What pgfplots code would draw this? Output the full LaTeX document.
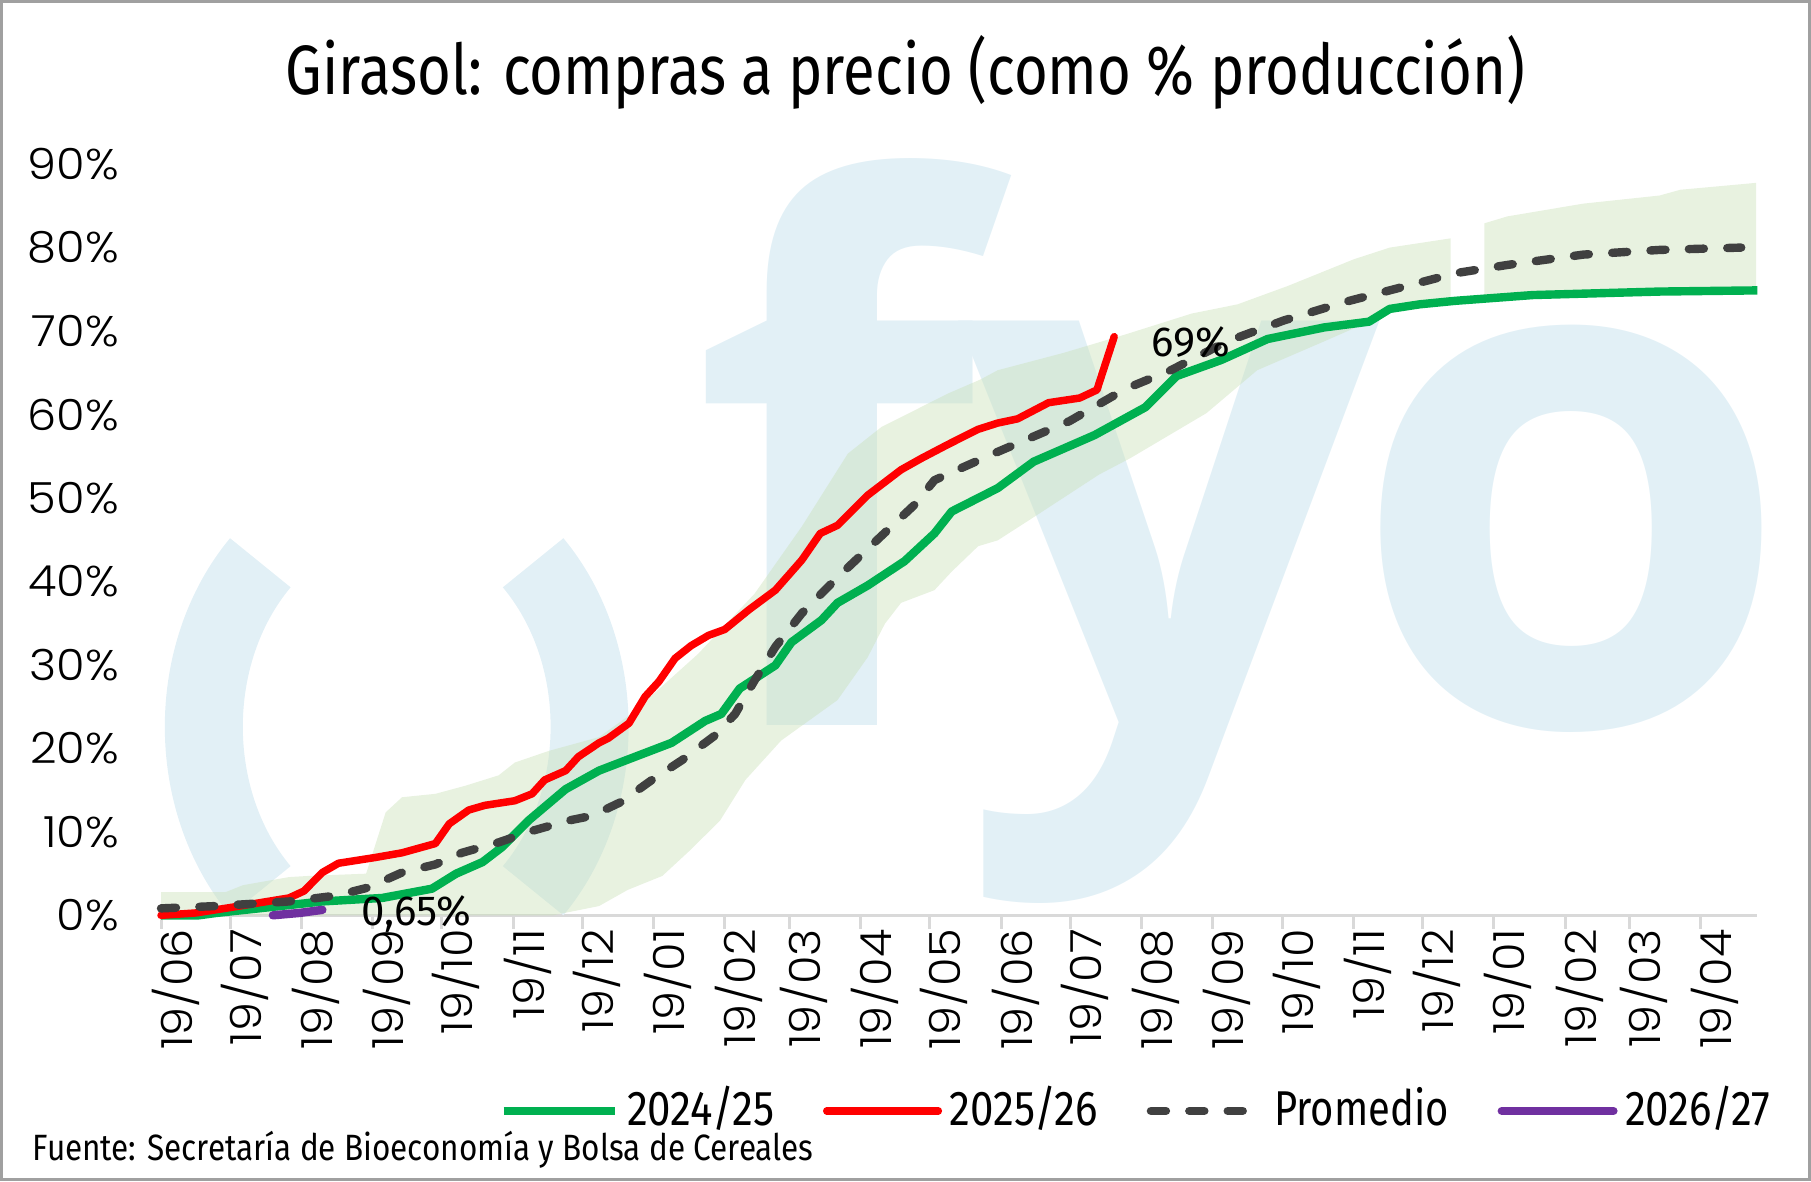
\documentclass[border=0pt]{standalone}
\usepackage{fontspec}
\setmainfont{Poppins}[UprightFont={* Light}, FakeStretch=1.08]
\newfontfamily\condfont{Fira Sans}[FakeStretch=0.83]
\newfontfamily\legfont{Fira Sans}[FakeStretch=0.86]
\newfontfamily\srcfont{Fira Sans}[FakeStretch=0.86]
\newfontfamily\labfont{Fira Sans}
\newfontfamily\wmfont{Open Sans}
\usepackage{pgfplots}
\pgfplotsset{compat=1.18}
\definecolor{wmblue}{RGB}{226,240,246}
\definecolor{bandgreen}{RGB}{200,224,182}
\definecolor{gline}{RGB}{0,176,80}
\definecolor{rline}{RGB}{255,0,0}
\definecolor{dline}{RGB}{64,64,64}
\definecolor{pline}{RGB}{112,48,160}
\definecolor{axgray}{RGB}{217,217,217}
\definecolor{framegray}{RGB}{160,160,160}
\begin{document}
\begin{tikzpicture}
\useasboundingbox (0,0) rectangle (603.67pt,393.67pt);
\draw[framegray, line width=1pt] (0.5pt,0.5pt) rectangle (603.17pt,393.17pt);
\node[anchor=base, inner sep=0pt, font=\condfont\fontsize{23.3}{23.3}\selectfont] at (301.8pt,362pt) {Girasol: compras a precio (como \% producción)};
\node[anchor=base west, inner sep=0pt, font=\srcfont\fontsize{12.2}{12.2}\selectfont] at (10.7pt,7pt) {Fuente: Secretaría de Bioeconomía y Bolsa de Cereales};
\begin{axis}[
  at={(53.67pt,88.57pt)}, anchor=south west,
  width=532.1pt, height=250.3pt, scale only axis,
  xmin=0, xmax=693.5, ymin=0, ymax=90,
  clip=false,
  axis x line*=bottom, axis y line*=left,
  x axis line style={draw=axgray, line width=1pt, -},
  y axis line style={draw=none},
  xtick={0,30,61,92,122,153,183,214,245,273,304,334,365,395,426,457,487,518,548,579,610,638,669},
  xticklabels={19/06,19/07,19/08,19/09,19/10,19/11,19/12,19/01,19/02,19/03,19/04,19/05,19/06,19/07,19/08,19/09,19/10,19/11,19/12,19/01,19/02,19/03,19/04},
  ytick={0,10,20,30,40,50,60,70,80,90},
  yticklabels={0\%,10\%,20\%,30\%,40\%,50\%,60\%,70\%,80\%,90\%},
  tick align=outside, major tick length=4.4pt,
  xtick style={draw=axgray, line width=1pt},
  ytick style={draw=none},
  xticklabel style={rotate=90, anchor=east, inner sep=0pt, yshift=-4.8pt, font=\fontsize{14.3}{14.3}\selectfont},
  yticklabel style={anchor=east, inner sep=0pt, xshift=-9.5pt, font=\fontsize{14.3}{14.3}\selectfont},
  legend columns=4,
  legend style={draw=none, fill=none, inner sep=0pt, outer sep=0pt,
    at={(1,0)}, anchor=east, xshift=4.4pt, yshift=-64.3pt,
    font=\legfont\fontsize{16.3}{16.3}\selectfont,
    nodes={inner sep=0pt},
    /tikz/every even column/.append style={column sep=16.3pt},
    /tikz/every odd column/.append style={column sep=2.5pt}},
  legend image code/.code={\draw[#1] (1.4pt,-0.9pt) -- (38.6pt,-0.9pt);},
]
% watermark
\node[anchor=base, inner sep=0pt, text=wmblue, font=\wmfont\bfseries\fontsize{247}{247}\selectfont] at (axis cs:293,22.7) {f};
\node[anchor=base, inner sep=0pt, text=wmblue, font=\wmfont\bfseries\fontsize{247}{247}\selectfont] at (axis cs:438,22.7) {y};
\node[anchor=base, inner sep=0pt, text=wmblue, font=\wmfont\bfseries\fontsize{240}{240}\selectfont] at (axis cs:612.7,22.7) {o};
\draw[wmblue, line width=26pt] (axis cs:102.4,22.6) ++(135:64.3pt and 77.3pt) arc[start angle=135, end angle=225, x radius=64.3pt, y radius=77.3pt];
\draw[wmblue, line width=26pt] (axis cs:102.4,22.6) ++(-45:64.3pt and 77.3pt) arc[start angle=-45, end angle=45, x radius=64.3pt, y radius=77.3pt];
% band (range of past campaigns)
\addplot[fill=bandgreen, fill opacity=0.42, draw=none, forget plot] coordinates {
 (0,2.77) (28,2.77) (35.6,3.61) (55.6,4.58) (64.1,4.72) (89.1,4.99) (97.6,12.34) (104.7,14.15) (119.2,14.56) (132.2,15.53) (146.7,16.78) (153.7,18.31) (168.3,19.69) (190.3,21.36) (204.3,24.13) (233.4,31.35) (257.9,38.56) (278.4,46.6) (298.4,55.34) (313,58.53) (342,62.55) (356,64.22) (363.5,65.33) (392.1,67.41) (419.1,69.63) (447.7,72.12) (467.7,73.23) (489.7,75.45) (518.3,78.64) (533.8,80.03) (560.3,81.14)
 (560.3,73.5) (546.8,73.23) (533.8,72.68) (524.8,71.15) (505.3,68.79) (476.2,65.33) (454.2,60.19) (421.1,54.79) (407.6,52.84) (379.1,47.71) (363.5,44.94) (355,44.24) (343.5,41.19) (336,38.97) (321.5,37.45) (314.5,34.95) (307,30.93) (293.9,25.8) (269.4,20.94) (253.9,16.23) (242.9,11.37) (230.3,7.91) (217.8,4.72) (202.8,3.05) (190.3,1.11) (170.3,0) (0,0)};
\addplot[fill=bandgreen, fill opacity=0.42, draw=none, forget plot] coordinates {
 (574.9,82.94) (584.9,83.77) (617.9,85.3) (651,86.27) (660,86.96) (693,87.79)
 (693,74.9) (651,74.76) (595.9,74.34) (584.9,74.1) (574.9,73.9)};
% 2024/25
\addplot[gline, line width=2.8pt, line join=round] coordinates {
 (0,0) (16.5,0) (24,0.28) (47.1,0.97) (70.1,1.66) (96.1,2.08) (117.7,3.19) (128.2,4.99) (139.7,6.38) (148.2,8.18) (159.7,11.37) (175.8,15.12) (190.3,17.34) (203.3,18.72) (221.8,20.67) (236.4,23.3) (243.4,24.13) (251.4,27.18) (266.9,29.96) (273.9,32.73) (286.9,35.37) (293.9,37.45) (307,39.53) (323,42.44) (336,45.77) (343.5,48.4) (363.5,51.2) (379.1,54.37) (405.6,57.56) (427.6,60.89) (441.2,64.63) (460.7,66.57) (480.7,69.07) (505.3,70.46) (524.8,71.15) (533.8,72.68) (546.8,73.23) (562.3,73.65) (595.9,74.34) (651,74.76) (693.5,74.9)};
\addlegendentry{2024/25}
% 2025/26
\addplot[rline, line width=2.5pt, line join=round, line cap=round] coordinates {
 (0,0) (15,0.28) (31,0.97) (55.6,2.08) (62.1,2.91) (70.1,5.13) (77.1,6.24) (93.1,6.93) (104.7,7.49) (119.2,8.6) (125.2,10.96) (133.7,12.62) (140.7,13.18) (153.7,13.73) (161.2,14.56) (166.7,16.23) (175.8,17.34) (181.3,19) (190.3,20.67) (194.3,21.22) (203.3,23.02) (210.3,26.21) (216.3,28.02) (223.3,30.79) (230.3,32.32) (237.9,33.56) (244.9,34.26) (255.4,36.62) (266.9,38.97) (278.4,42.58) (286.4,45.77) (293.9,46.74) (307,50.35) (321.5,53.4) (330.5,54.79) (342,56.45) (355,58.25) (363.5,59.0) (372.1,59.5) (385.6,61.44) (399.1,62.0) (406.6,62.97) (414.1,69.35)};
\addlegendentry{2025/26}
% Promedio
\addplot[dline, line width=2.8pt, dash pattern=on 5pt off 7.8pt, line cap=round, line join=round] coordinates {
 (0,0.83) (24,1.11) (55.6,1.66) (76.1,2.36) (90.1,3.33) (104.7,5.13) (119.2,6.1) (130.7,7.49) (146.7,8.74) (161.2,10.12) (177.3,11.37) (187.3,11.93) (200,13.6) (213.3,16.23) (226.3,18.59) (240.4,21.5) (249.4,24.13) (257.9,28.16) (266.9,32.18) (278.4,36.2) (293.9,40.5) (312.5,45.35) (327.5,49.24) (336,52.15) (346,53.4) (363.5,55.55) (394.6,59.22) (419.1,63.11) (438.7,65.33) (463.2,68.79) (487.7,71.29) (514.3,73.51) (531.8,74.76) (562.8,76.98) (584.9,77.95) (617.9,79.19) (651,79.75) (686.5,80.03)};
\addlegendentry{\scalebox{0.95}[1]{Promedio}}
% 2026/27
\addplot[pline, line width=2.8pt, line cap=round] coordinates {
 (48.6,0) (60.1,0.28) (70.1,0.65)};
\addlegendentry{2026/27}
\node[anchor=west, inner sep=0pt, font=\labfont\fontsize{14}{14}\selectfont] at (axis cs:86.9,0.1) {0,65\%};
\node[anchor=west, inner sep=0pt, font=\labfont\fontsize{14}{14}\selectfont] at (axis cs:430.1,68.7) {69\%};
\end{axis}
\end{tikzpicture}
\end{document}
